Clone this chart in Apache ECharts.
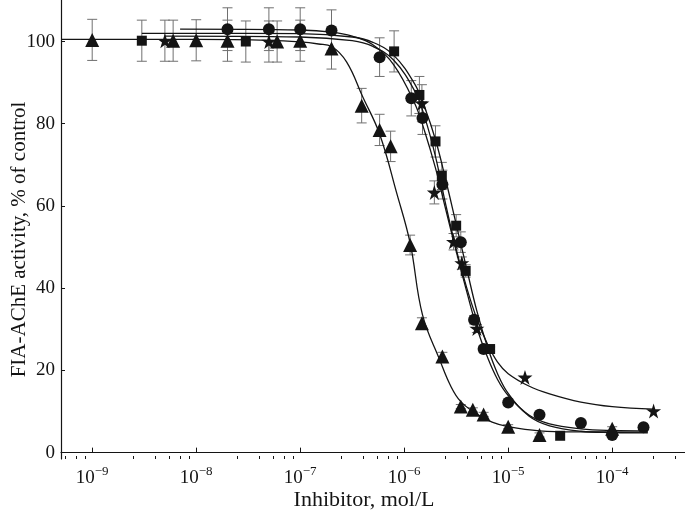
<!DOCTYPE html>
<html><head><meta charset="utf-8">
<script src="https://cdn.jsdelivr.net/npm/echarts@6/dist/echarts.min.js"></script>
<style>html,body{margin:0;padding:0;background:#fff}#c{width:685px;height:520px}</style>
</head><body><div id="c"></div>
<script>
// ---- data (concentration in mol/L, activity in % of control) ----
const triX   = [1e-9, 6e-9, 1e-8, 2e-8, 6e-8, 1e-7, 2e-7, 3.9e-7, 5.8e-7, 7.4e-7, 1.14e-6, 1.48e-6, 2.33e-6, 3.5e-6, 4.57e-6, 5.8e-6, 1e-5, 2e-5, 1e-4];
const triY   = [100.4, 100.2, 100.3, 100.2, 100.0, 100.2, 98.3, 84.4, 78.5, 74.5, 50.5, 31.5, 23.4, 11.2, 10.4, 9.3, 6.3, 4.3, 5.8];
const triErr = [5, 5, 5, 5, 5, 5, 5, 4.2, 3.8, 3.7, 2.4, 1.3, 1, 0.5, 0.5, 0.5, 0.5, 0.5, 0.5];

const cirX   = [2e-8, 5e-8, 1e-7, 2e-7, 5.8e-7, 1.17e-6, 1.5e-6, 2.33e-6, 3.5e-6, 4.7e-6, 5.8e-6, 1e-5, 2e-5, 5e-5, 1e-4, 2e-4];
const cirY   = [103, 103, 103, 102.7, 96.2, 86.2, 81.4, 65.2, 51.2, 32.3, 25.2, 12.2, 9.2, 7.2, 4.3, 6.2];
const cirErr = [5.2, 5.2, 5.2, 5, 4.7, 4.3, 4, 3.5, 2.5, 1, 0.8, 0, 0, 0, 0, 0];

const sqX    = [3e-9, 3e-8, 8e-7, 1.4e-6, 2e-6, 2.3e-6, 3.16e-6, 3.9e-6, 6.7e-6, 3.16e-5];
const sqY    = [100.2, 100, 97.6, 87, 75.7, 67.3, 55.2, 44.2, 25.2, 4.1];
const sqErr  = [5, 5, 5, 4.5, 3.8, 3.3, 2.7, 1.5, 0.5, 0];

const starX  = [5e-9, 5e-8, 1.48e-6, 1.95e-6, 2.98e-6, 3.58e-6, 5e-6, 1.45e-5, 2.5e-4];
const starY  = [100.2, 100, 85, 63.3, 51.3, 46.1, 30.2, 18.3, 10.1];
const starErr= [5, 5, 4.5, 2.8, 2, 1.5, 1, 0, 0];

// fitted curves
const triCurveX  = [5.01e-10, 1e-8, 5e-8, 1e-7, 1.5e-7, 2e-7, 2.8e-7, 4e-7, 5.8e-7, 8.5e-7, 1.14e-6, 1.5e-6, 2.2e-6, 2.8e-6, 3.5e-6, 5e-6, 7e-6, 1e-5, 2e-5, 5e-5, 2.2e-4];
const triCurveY  = [100.5, 100.5, 100.3, 99.9, 99.4, 98.8, 95, 86.5, 77.5, 63, 51, 33.5, 22.5, 16.2, 12.4, 9.4, 7.4, 6.3, 5.3, 5.05, 5.0];
const cirCurveX  = [7e-9, 1e-7, 2e-7, 3.16e-7, 5e-7, 7.9e-7, 1.26e-6, 1.58e-6, 2e-6, 2.5e-6, 3.16e-6, 4e-6, 5e-6, 6.3e-6, 7.9e-6, 1e-5, 1.58e-5, 2.5e-5, 5e-5, 1e-4, 2.2e-4];
const cirCurveY  = [103, 102.8, 102.3, 101.3, 99.2, 94.4, 85.0, 78.0, 69.2, 59.3, 49.0, 39.1, 30.3, 23.3, 17.8, 13.9, 9.15, 7.0, 5.8, 5.4, 5.3];
const sqCurveX   = [3e-9, 1e-7, 3.16e-7, 5e-7, 7.9e-7, 1.26e-6, 1.58e-6, 2e-6, 2.5e-6, 3.16e-6, 4e-6, 5e-6, 6.3e-6, 7.9e-6, 1e-5, 1.58e-5, 2.5e-5, 5e-5, 1e-4, 2.2e-4];
const sqCurveY   = [102, 101.9, 101.1, 99.8, 96.7, 89.7, 83.9, 76.1, 66.5, 55.6, 44.6, 34.4, 25.8, 19.2, 14.4, 8.9, 6.5, 5.2, 4.9, 4.8];
const starCurveX = [5e-9, 1e-7, 3.16e-7, 5e-7, 7.9e-7, 1.26e-6, 1.58e-6, 2e-6, 2.5e-6, 3.16e-6, 4e-6, 5e-6, 6.3e-6, 7.9e-6, 1e-5, 1.58e-5, 2.5e-5, 5e-5, 1e-4, 2.5e-4];
const starCurveY = [101.3, 101.1, 100.2, 98.8, 95.5, 88, 81.5, 72, 60.5, 49.5, 40, 32.5, 26.5, 22, 19.2, 16.2, 14.3, 12.3, 11.2, 10.6];

// axis ticks
const xMajorTicks = [1e-9, 1e-8, 1e-7, 1e-6, 1e-5, 1e-4];
const xMinorMult  = [2.5, 4, 5.5, 7, 8.5];
const yTicks      = [0, 20, 40, 60, 80, 100];

const FONT = '"Liberation Serif", "Times New Roman", serif';
const INK = '#141414';
const xMin = Math.pow(10, -9.3), xMax = Math.pow(10, -3.3);

const xMinorTicks = [];
[1e-10, 1e-9, 1e-8, 1e-7, 1e-6, 1e-5, 1e-4].forEach(d => xMinorMult.forEach(m => {
  const v = d * m; if (v > xMin && v < xMax) xMinorTicks.push(v);
}));

const zip = (xs, ys) => xs.map((x, i) => [x, ys[i]]);
const zip3 = (xs, ys, es) => xs.map((x, i) => [x, ys[i], es[i]]);
const starPath = 'path://M50,0 L61.2,34.5 L97.6,34.5 L68.2,55.9 L79.4,90.5 L50,69.1 L20.6,90.5 L31.8,55.9 L2.4,34.5 L38.8,34.5 Z';

function errSeries(data) {
  return {
    type: 'custom', xAxisIndex: 0, yAxisIndex: 0, z: 1, silent: true,
    encode: { x: 0, y: 1 },
    data: data,
    renderItem(params, api) {
      const x = api.value(0), y = api.value(1), e = api.value(2);
      if (!e) return null;
      const t = api.coord([x, y + e]), b = api.coord([x, y - e]);
      const hw = 5, st = { stroke: '#707070', lineWidth: 1 };
      return { type: 'group', children: [
        { type: 'line', shape: { x1: t[0], y1: t[1], x2: b[0], y2: b[1] }, style: st },
        { type: 'line', shape: { x1: t[0] - hw, y1: t[1], x2: t[0] + hw, y2: t[1] }, style: st },
        { type: 'line', shape: { x1: b[0] - hw, y1: b[1], x2: b[0] + hw, y2: b[1] }, style: st }
      ]};
    }
  };
}
function curve(data) {
  return { type: 'line', data: data, smooth: 0.4, showSymbol: false, symbol: 'none', z: 2, silent: true,
    lineStyle: { color: INK, width: 1.3 } };
}
function pts(data, symbol, size) {
  return { type: 'scatter', data: data, symbol: symbol, symbolSize: size, z: 3, silent: true,
    itemStyle: { color: INK, opacity: 1 } };
}

const chart = echarts.init(document.getElementById('c'), null, { renderer: 'canvas' });
chart.setOption({
  animation: false,
  backgroundColor: '#fff',
  grid: { left: 61, right: 0, top: 0, bottom: 61, containLabel: false, outerBoundsMode: 'none' },
  xAxis: [{
    type: 'log', logBase: 10, min: xMin, max: xMax,
    name: 'Inhibitor, mol/L', nameLocation: 'middle', nameGap: 30, nameMoveOverlap: false,
    nameTextStyle: { fontFamily: FONT, fontSize: 22, color: INK, padding: [0, 18, 0, 0] },
    axisLine: { show: true, lineStyle: { color: INK, width: 1.2 } },
    axisTick: { show: true, inside: true, length: 5, customValues: xMajorTicks, lineStyle: { color: INK, width: 1 } },
    minorTick: { show: false },
    splitLine: { show: false },
    axisLabel: {
      customValues: xMajorTicks, margin: 6,
      formatter: v => '{b|10}{s|\u2212' + Math.abs(Math.round(Math.log10(v))) + '}',
      rich: {
        b: { fontFamily: FONT, fontSize: 19, color: INK, lineHeight: 26 },
        s: { fontFamily: FONT, fontSize: 13, color: INK, verticalAlign: 'top', lineHeight: 13 }
      }
    }
  }, {
    type: 'log', logBase: 10, min: xMin, max: xMax, position: 'bottom',
    axisLine: { show: false },
    axisTick: { show: true, inside: true, length: 3, customValues: xMinorTicks, lineStyle: { color: INK, width: 1 } },
    axisLabel: { show: false },
    splitLine: { show: false }
  }],
  yAxis: {
    type: 'value', min: -1.55, max: 110.1,
    name: 'FIA-AChE activity, % of control', nameLocation: 'middle', nameGap: 31, nameRotate: 90, nameMoveOverlap: false,
    nameTextStyle: { fontFamily: FONT, fontSize: 21, color: INK, padding: [0, 20, 0, 0] },
    axisLine: { show: true, lineStyle: { color: INK, width: 1.2 } },
    axisTick: { show: true, inside: true, length: 4, customValues: yTicks, lineStyle: { color: INK, width: 1 } },
    splitLine: { show: false },
    axisLabel: { customValues: yTicks, margin: 6, fontFamily: FONT, fontSize: 19, color: INK }
  },
  series: [
    errSeries(zip3(triX, triY, triErr)),
    errSeries(zip3(cirX, cirY, cirErr)),
    errSeries(zip3(sqX, sqY, sqErr)),
    errSeries(zip3(starX, starY, starErr)),
    curve(zip(triCurveX, triCurveY)),
    curve(zip(cirCurveX, cirCurveY)),
    curve(zip(sqCurveX, sqCurveY)),
    curve(zip(starCurveX, starCurveY)),
    pts(zip(triX, triY), 'triangle', 14),
    pts(zip(cirX, cirY), 'circle', 12),
    pts(zip(sqX, sqY), 'rect', 10),
    pts(zip(starX, starY), starPath, 15)
  ]
});
</script></body></html>
